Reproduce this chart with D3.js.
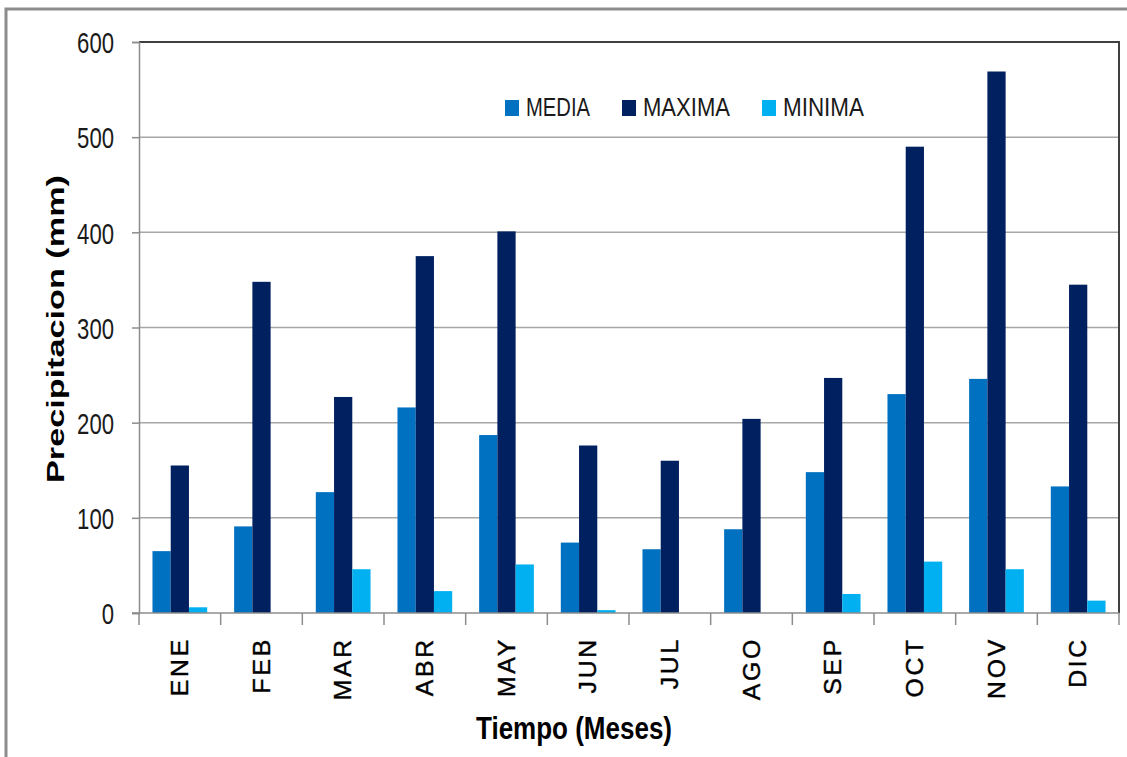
<!DOCTYPE html>
<html>
<head>
<meta charset="utf-8">
<script src="https://cdn.jsdelivr.net/npm/d3@7/dist/d3.min.js"></script>
<style>
  body { margin: 0; background: #fff; }
  svg { display: block; }
  .narrow { font-family: "Liberation Sans Narrow", "Arial Narrow", "Liberation Sans", sans-serif; }
  .arial { font-family: "Liberation Sans", Arial, sans-serif; }
</style>
</head>
<body>
<svg width="1127" height="757"></svg>
<script>
// datos
var meses = ["ENE", "FEB", "MAR", "ABR", "MAY", "JUN", "JUL", "AGO", "SEP", "OCT", "NOV", "DIC"];
var series = ["MEDIA", "MAXIMA", "MINIMA"];
var media  = [65, 91, 127, 216, 187, 74, 67, 88, 148, 230, 246, 133];
var maxima = [155, 348, 227, 375, 401, 176, 160, 204, 247, 490, 569, 345];
var minima = [6, 0, 46, 23, 51, 3, 0, 0, 20, 54, 46, 13];
var yTicks = [0, 100, 200, 300, 400, 500, 600];
var colores = ["#0070C0", "#002060", "#00B0F0"];

var svg = d3.select("svg"),
    width = +svg.attr("width"),
    height = +svg.attr("height");

var margin = {left: 139, right: 1119, top: 42, bottom: 613};

// marco exterior
svg.append("rect")
    .attr("x", 6).attr("y", 9)
    .attr("width", width + 10).attr("height", height + 10)
    .attr("fill", "none")
    .attr("stroke", "#8c8c8c")
    .attr("stroke-width", 3);

var x = d3.scaleBand()
    .domain(meses)
    .range([margin.left, margin.right])
    .paddingInner(0.33)
    .paddingOuter(0.165);

var xSub = d3.scaleBand()
    .domain(series)
    .range([0, x.bandwidth()]);

var y = d3.scaleLinear()
    .domain([0, 600])
    .range([margin.bottom, margin.top]);

var color = d3.scaleOrdinal().domain(series).range(colores);

// lineas de cuadricula
svg.append("g")
    .selectAll("line")
    .data(yTicks.filter(d => d > 0 && d < 600))
    .enter().append("line")
    .attr("x1", margin.left).attr("x2", margin.right)
    .attr("y1", d => y(d)).attr("y2", d => y(d))
    .attr("stroke", "#a6a6a6")
    .attr("stroke-width", 1.5);

// borde del area de grafico (arriba y derecha)
svg.append("path")
    .attr("d", "M" + margin.left + "," + y(600) + "H" + margin.right + "V" + y(0))
    .attr("fill", "none")
    .attr("stroke", "#404040")
    .attr("stroke-width", 2);

// barras
var datos = meses.map(function (m, i) {
    return {mes: m, valores: [media[i], maxima[i], minima[i]]};
});

var grupos = svg.append("g")
    .selectAll("g")
    .data(datos)
    .enter().append("g")
    .attr("transform", d => "translate(" + x(d.mes) + ",0)");

grupos.selectAll("rect")
    .data(d => d.valores.map((v, j) => ({serie: series[j], valor: v})))
    .enter().append("rect")
    .attr("x", d => xSub(d.serie))
    .attr("width", xSub.bandwidth())
    .attr("y", d => y(d.valor))
    .attr("height", d => y(0) - y(d.valor))
    .attr("fill", d => color(d.serie));

// eje y
var yAxis = svg.append("g")
    .attr("transform", "translate(" + margin.left + ",0)")
    .call(d3.axisLeft(y).tickValues(yTicks).tickSize(7).tickPadding(18));
yAxis.select(".domain").attr("stroke", "#8c8c8c").attr("stroke-width", 1.5);
yAxis.selectAll(".tick line").attr("stroke", "#8c8c8c").attr("stroke-width", 1.5);
yAxis.selectAll(".tick text")
    .attr("class", "narrow")
    .attr("font-size", 30)
    .attr("fill", "#1a1a1a")
    .attr("dy", "0.36em")
    .attr("textLength", d => 12.3 * String(d).length)
    .attr("lengthAdjust", "spacingAndGlyphs");

// eje x
var xAxisG = svg.append("g")
    .attr("transform", "translate(0," + margin.bottom + ")");
xAxisG.append("line")
    .attr("x1", margin.left - 7).attr("x2", margin.right)
    .attr("stroke", "#8c8c8c").attr("stroke-width", 1.5);
var bordes = meses.map(m => x(m) - x.step() * x.paddingInner() / 2).concat([margin.right]);
bordes[0] = margin.left;
xAxisG.selectAll(".sep")
    .data(bordes)
    .enter().append("line")
    .attr("class", "sep")
    .attr("x1", d => d).attr("x2", d => d)
    .attr("y1", 0).attr("y2", 12)
    .attr("stroke", "#8c8c8c").attr("stroke-width", 1.5);

xAxisG.selectAll(".lbl")
    .data(meses)
    .enter().append("text")
    .attr("class", "lbl arial")
    .attr("transform", d => "translate(" + (x(d) + x.bandwidth() / 2 + 8) + ",24) rotate(-90) scale(1.08,1)")
    .attr("text-anchor", "end")
    .attr("font-size", 23)
    .attr("letter-spacing", 2.5)
    .attr("fill", "#000")
    .attr("stroke", "#000")
    .attr("stroke-width", 0.4)
    .text(d => d);

// titulos
svg.append("text")
    .attr("class", "narrow")
    .attr("x", 574).attr("y", 739)
    .attr("text-anchor", "middle")
    .attr("font-size", 32)
    .attr("font-weight", "bold")
    .attr("textLength", 196)
    .attr("lengthAdjust", "spacingAndGlyphs")
    .text("Tiempo (Meses)");

svg.append("text")
    .attr("class", "arial")
    .attr("transform", "translate(64,329) rotate(-90)")
    .attr("text-anchor", "middle")
    .attr("font-size", 24)
    .attr("font-weight", "bold")
    .attr("textLength", 308)
    .attr("lengthAdjust", "spacingAndGlyphs")
    .text("Precipitacion (mm)");

// leyenda
var legendX = [505, 622, 762];
var legendW = [64, 87, 81];
var leyenda = svg.append("g")
    .selectAll("g")
    .data(series)
    .enter().append("g")
    .attr("transform", (d, i) => "translate(" + legendX[i] + ",100)");
leyenda.append("rect")
    .attr("width", 14).attr("height", 16)
    .attr("fill", d => color(d));
leyenda.append("text")
    .attr("class", "narrow")
    .attr("x", 21).attr("y", 16)
    .attr("font-size", 25)
    .attr("fill", "#1a1a1a")
    .attr("textLength", (d, i) => legendW[i])
    .attr("lengthAdjust", "spacingAndGlyphs")
    .text(d => d);
</script>
</body>
</html>
